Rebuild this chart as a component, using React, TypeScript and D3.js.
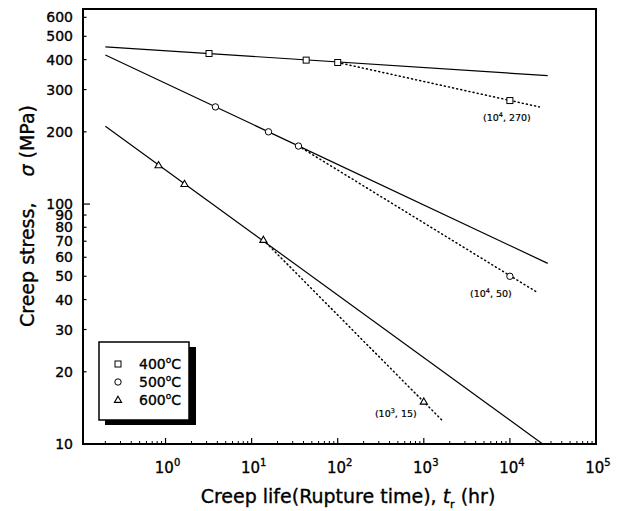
import React from 'react';
import * as d3 from 'd3';

const seriesNames = ['400°C', '500°C', '600°C'];
const markerKinds = ['square', 'circle', 'triangle'];

// measured points (time hr, stress MPa)
const t400 = [3.2, 43, 100];
const s400 = [424, 398, 389];
const t500 = [3.8, 15.7, 35];
const s500 = [254, 200, 174.5];
const t600 = [0.83, 1.66, 13.7];
const s600 = [145, 121, 70.8];

// fitted solid lines
const fit400 = [[0.2, 452], [2.75e4, 343]];
const fit500 = [[0.2, 418], [2.75e4, 56.6]];
const fit600 = [[0.2, 211], [2.4e4, 10]];

// dotted extrapolations
const ext400 = [[100, 389], [2.2e4, 254]];
const ext500 = [[35, 174.5], [2e4, 43.2]];
const ext600 = [[13.7, 70.8], [1650, 12.5]];

// predicted points
const predT = [1e4, 1e4, 1e3];
const predS = [270, 50, 15];
const predExp = ['4', '4', '3'];

const xMajor = [1, 10, 100, 1e3, 1e4, 1e5];
const xMajorExp = ['0', '1', '2', '3', '4', '5'];
const yTickValues = [10, 20, 30, 40, 50, 60, 70, 80, 90, 100, 200, 300, 400, 500, 600];

const FONT = "'DejaVu Sans', 'Liberation Sans', Arial, sans-serif";

function Marker({ kind, x, y }: { kind: string; x: number; y: number }) {
  if (kind === 'square') return <rect x={x - 3} y={y - 3} width={6} height={6} fill="white" stroke="black" strokeWidth={1} />;
  if (kind === 'circle') return <circle cx={x} cy={y} r={3.2} fill="white" stroke="black" strokeWidth={1} />;
  const h = 6.2;
  return <path d={`M${x},${y - h * 0.62} L${x + 3.6},${y + h * 0.38} L${x - 3.6},${y + h * 0.38} Z`} fill="white" stroke="black" strokeWidth={1.1} />;
}

export default function App() {
  const L = 83, R = 596, T = 9, B = 444;
  const x = d3.scaleLog().domain([0.11, 1e5]).range([L, R]);
  const y = d3.scaleLog().domain([10, 650]).range([B, T]);
  const line = d3.line<number[]>().x(d => x(d[0])).y(d => y(d[1]));

  const xMinor = x.ticks().filter(v => v >= 0.11 && v <= 1e5 && !xMajor.includes(v));
  const pts = [
    { t: t400, s: s400 },
    { t: t500, s: s500 },
    { t: t600, s: s600 },
  ];
  const fits = [fit400, fit500, fit600];
  const exts = [ext400, ext500, ext600];
  const labelOff = [[-3, 20], [-19, 21], [-28, 15]];
  const thick = { stroke: 'black', strokeWidth: 0.35 };

  return (
    <svg width={619} height={511} style={{ position: 'absolute', left: 0, top: 0, background: 'white' }} fontFamily={FONT}>
      <rect width={619} height={511} fill="white" />
      {/* fitted lines */}
      {fits.map((f, i) => <path key={'f' + i} d={line(f) || ''} fill="none" stroke="black" strokeWidth={1.2} />)}
      {exts.map((f, i) => <path key={'e' + i} d={line(f) || ''} fill="none" stroke="black" strokeWidth={1.5} strokeDasharray="1 3.2" strokeLinecap="round" />)}
      {/* markers */}
      {pts.map((p, i) => p.t.map((t, j) => <Marker key={i + '-' + j} kind={markerKinds[i]} x={x(t)} y={y(p.s[j])} />))}
      {predT.map((t, i) => <Marker key={'p' + i} kind={markerKinds[i]} x={x(t)} y={y(predS[i])} />)}
      {predT.map((t, i) => (
        <text key={'pl' + i} x={x(t) + labelOff[i][0]} y={y(predS[i]) + labelOff[i][1]} fontSize={9.5} textAnchor="middle" fill="black" stroke="black" strokeWidth={0.2}>
          (10<tspan fontSize={6.5} dy={-4}>{predExp[i]}</tspan><tspan dy={4}>, {predS[i]})</tspan>
        </text>
      ))}
      {/* frame */}
      <rect x={L} y={T} width={R - L} height={B - T} fill="none" stroke="black" strokeWidth={2} />
      {/* x ticks */}
      {xMinor.map((v, i) => <line key={'xm' + i} x1={x(v)} x2={x(v)} y1={B} y2={B - 3} stroke="black" strokeWidth={1} />)}
      {xMajor.map((v, i) => <line key={'xM' + i} x1={x(v)} x2={x(v)} y1={B} y2={B - 6} stroke="black" strokeWidth={1.2} />)}
      {xMajor.map((v, i) => (
        <text key={'xl' + i} x={x(v) + 2} y={473} fontSize={15} textAnchor="middle" fill="black" {...thick}>
          10<tspan fontSize={10} dy={-7}>{xMajorExp[i]}</tspan>
        </text>
      ))}
      {/* y ticks */}
      {yTickValues.map((v, i) => <line key={'yt' + i} x1={L} x2={L + (v === 100 ? 7 : 3.5)} y1={y(v)} y2={y(v)} stroke="black" strokeWidth={1.2} />)}
      {yTickValues.map((v, i) => (
        <text key={'yl' + i} x={73} y={y(v) + 5} fontSize={14} textAnchor="end" fill="black" {...thick}>{v}</text>
      ))}
      {/* axis titles */}
      <text x={348} y={503} fontSize={19} textAnchor="middle" fill="black" {...thick}>
        Creep life(Rupture time), <tspan fontStyle="italic">t</tspan><tspan fontSize={11} dy={5}>r</tspan><tspan dy={-5}> (hr)</tspan>
      </text>
      <text transform="translate(34,216) rotate(-90)" fontSize={19} textAnchor="middle" fill="black" {...thick}>
        Creep stress,<tspan dx={26} fontStyle="italic">σ</tspan> (MPa)
      </text>
      {/* legend */}
      <rect x={105} y={347} width={91} height={78} fill="black" />
      <rect x={99} y={342} width={90} height={78} fill="white" stroke="black" strokeWidth={1.5} />
      {seriesNames.map((n, i) => (
        <g key={'lg' + i}>
          <Marker kind={markerKinds[i]} x={118} y={364 + i * 18} />
          <text x={139} y={369 + i * 18} fontSize={14} fill="black" {...thick}>
            {n.replace('°C', '')}<tspan fontSize={9} dy={-6}>o</tspan><tspan dy={6}>C</tspan>
          </text>
        </g>
      ))}
    </svg>
  );
}
